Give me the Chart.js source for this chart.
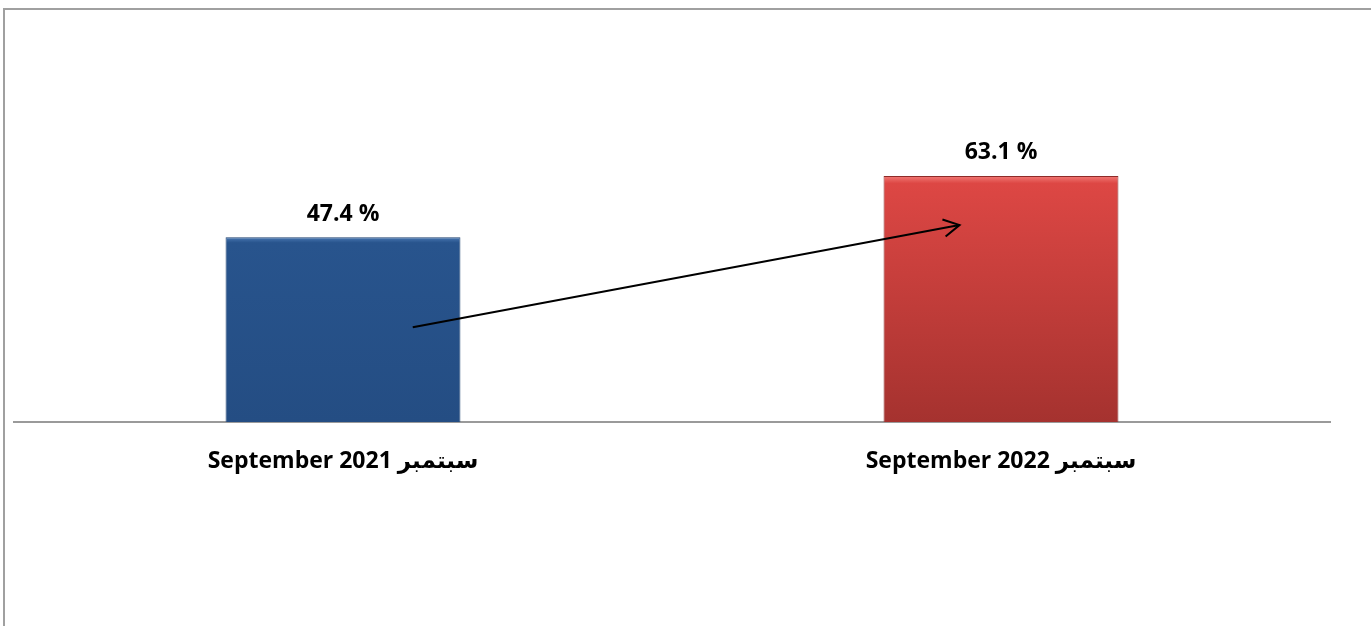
<!DOCTYPE html>
<html>
<head>
<meta charset="utf-8">
<script src="https://cdn.jsdelivr.net/npm/chart.js@4/dist/chart.umd.min.js"></script>
<style>
  html, body { margin: 0; padding: 0; background: #fff; overflow: hidden; }
  #cadre { position: absolute; left: 3px; top: 8px; width: 1400px; height: 700px;
           border-top: 2px solid #a0a0a0; border-left: 2px solid #a0a0a0; }
  #zone { position: absolute; left: 0; top: 0; width: 1371px; height: 626px; }
</style>
</head>
<body>
<div id="cadre"></div>
<div id="zone"><canvas id="graphe"></canvas></div>
<script>
// données
var categories = ["September 2021 سبتمبر", "September 2022 سبتمبر"];
var valeurs = [47.4, 63.1];
var etiquettes = ["47.4 %", "63.1 %"];
// flèche (en unités du graphique : index de catégorie, valeur)
var flecheDebut = [0.106, 24.3];
var flecheFin = [0.937, 50.5];

var police = "'Open Sans', 'DejaVu Sans', sans-serif";

function couleurBarre(context) {
    var chart = context.chart;
    var area = chart.chartArea;
    var sy = chart.scales && chart.scales.y;
    var plat = context.dataIndex === 0 ? '#27528a' : '#c93e3b';
    if (!area || !sy) return plat;
    var haut = sy.getPixelForValue(valeurs[context.dataIndex]);
    var bas = area.bottom;
    if (!isFinite(haut) || !isFinite(bas)) return plat;
    var g = chart.ctx.createLinearGradient(0, haut, 0, bas);
    if (context.dataIndex === 0) {
        g.addColorStop(0, '#4a78b3');
        g.addColorStop(0.03, '#28548d');
        g.addColorStop(1, '#244d83');
    } else {
        g.addColorStop(0, '#f27a76');
        g.addColorStop(0.03, '#dd4744');
        g.addColorStop(1, '#a5322f');
    }
    return g;
}

var pluginEtiquettes = {
    id: 'etiquettes',
    afterDatasetsDraw: function(chart) {
        var ctx = chart.ctx;
        var meta = chart.getDatasetMeta(0);
        ctx.save();
        ctx.font = "bold 23px " + police;
        ctx.fillStyle = '#000';
        ctx.textAlign = 'center';
        ctx.textBaseline = 'middle';
        meta.data.forEach(function(bar, i) {
            ctx.fillText(etiquettes[i], bar.x, bar.y - 23);
        });
        ctx.restore();
    }
};

var pluginFleche = {
    id: 'fleche',
    afterDatasetsDraw: function(chart) {
        var sx = chart.scales.x, sy = chart.scales.y;
        var x1 = sx.getPixelForValue(flecheDebut[0]), y1 = sy.getPixelForValue(flecheDebut[1]);
        var x2 = sx.getPixelForValue(flecheFin[0]), y2 = sy.getPixelForValue(flecheFin[1]);
        var ctx = chart.ctx;
        var ang = Math.atan2(y2 - y1, x2 - x1);
        ctx.save();
        ctx.strokeStyle = '#000';
        ctx.lineWidth = 2;
        ctx.beginPath();
        ctx.moveTo(x1, y1);
        ctx.lineTo(x2, y2);
        ctx.moveTo(x2 - 18 * Math.cos(ang - 0.5), y2 - 18 * Math.sin(ang - 0.5));
        ctx.lineTo(x2, y2);
        ctx.lineTo(x2 - 18 * Math.cos(ang + 0.5), y2 - 18 * Math.sin(ang + 0.5));
        ctx.stroke();
        ctx.restore();
    }
};

new Chart(document.getElementById('graphe').getContext('2d'), {
    type: 'bar',
    data: {
        labels: categories,
        datasets: [{
            data: valeurs,
            backgroundColor: couleurBarre,
            borderColor: ['#1d4170', '#8e2b28'],
            borderWidth: 1,
            categoryPercentage: 1,
            barPercentage: 0.357
        }]
    },
    options: {
        responsive: true,
        maintainAspectRatio: false,
        animation: false,
        layout: { padding: { left: 14, right: 41, top: 32, bottom: 0 } },
        plugins: { legend: { display: false }, tooltip: { enabled: false } },
        scales: {
            x: {
                grid: { display: false, drawTicks: false },
                border: { display: true, color: '#9a9a9a', width: 2 },
                ticks: { color: '#000', font: { family: police, size: 23, weight: 'bold' }, padding: 26 },
                afterFit: function(scale) { scale.height = 204; }
            },
            y: { display: false, min: 0, max: 100 }
        }
    },
    plugins: [pluginEtiquettes, pluginFleche]
});
</script>
</body>
</html>
